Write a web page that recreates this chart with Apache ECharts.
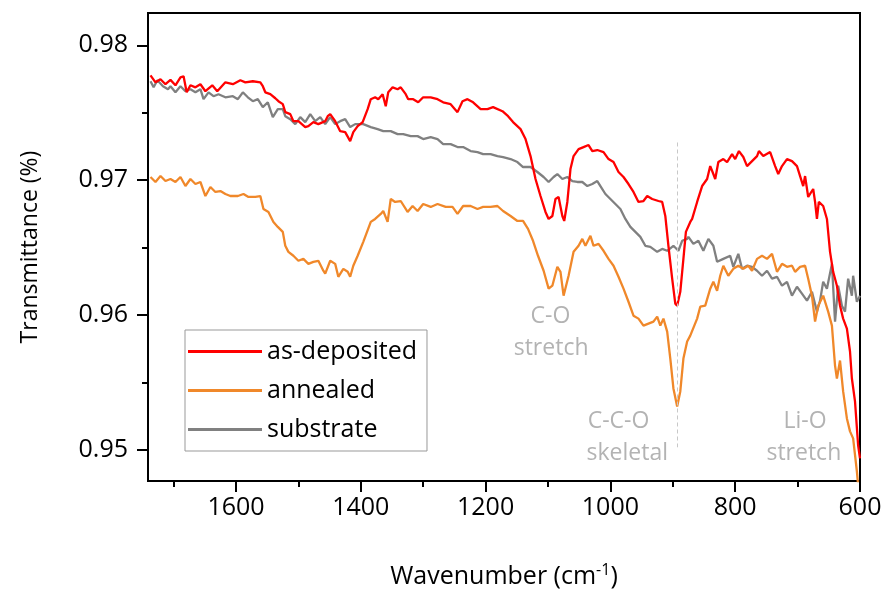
<!DOCTYPE html>
<html>
<head>
<meta charset="utf-8">
<script src="https://cdn.jsdelivr.net/npm/echarts@6/dist/echarts.min.js"></script>
<style>
html,body{margin:0;padding:0;background:#fff;}
#chart{width:885px;height:594px;}
</style>
</head>
<body>
<div id="chart"></div>
<script>
// ---- data (wavenumber cm^-1, transmittance) ----
const seriesNames = ['as-deposited', 'annealed', 'substrate'];

const asDeposited = [
[1737,0.97778],[1729,0.97726],[1721,0.97749],[1713,0.97712],[1705,0.97744],[1697,0.97704],[1689,0.97763],[1684,0.97771],[1679,0.97652],[1673,0.97704],[1665,0.97689],[1657,0.97712],[1649,0.97660],[1638,0.97704],[1630,0.97660],[1617,0.97726],[1605,0.97712],[1593,0.97741],[1585,0.97726],[1573,0.97734],[1561,0.97726],[1557,0.97697],[1553,0.97652],[1545,0.97638],[1537,0.97608],[1532,0.97586],[1525,0.97564],[1521,0.97505],[1513,0.97490],[1508,0.97438],[1500,0.97438],[1489,0.97394],[1484,0.97401],[1476,0.97431],[1468,0.97416],[1457,0.97438],[1453,0.97475],[1449,0.97490],[1441,0.97438],[1433,0.97364],[1425,0.97357],[1417,0.97290],[1412,0.97357],[1405,0.97401],[1397,0.97431],[1389,0.97527],[1384,0.97601],[1377,0.97615],[1372,0.97601],[1365,0.97638],[1360,0.97549],[1356,0.97652],[1349,0.97689],[1341,0.97675],[1336,0.97689],[1328,0.97638],[1324,0.97601],[1316,0.97601],[1308,0.97578],[1300,0.97615],[1288,0.97615],[1277,0.97601],[1268,0.97578],[1256,0.97564],[1245,0.97505],[1237,0.97586],[1229,0.97601],[1220,0.97578],[1208,0.97527],[1197,0.97527],[1188,0.97542],[1173,0.97512],[1164,0.97475],[1156,0.97431],[1144,0.97379],[1136,0.97305],[1128,0.97179],[1120,0.97009],[1112,0.96883],[1104,0.96765],[1099,0.96713],[1093,0.96735],[1088,0.96861],[1083,0.96876],[1077,0.96735],[1074,0.96698],[1069,0.96839],[1064,0.97083],[1059,0.97179],[1051,0.97231],[1043,0.97246],[1035,0.97261],[1029,0.97216],[1021,0.97224],[1011,0.97209],[1003,0.97157],[995,0.97135],[987,0.97061],[979,0.97024],[971,0.96972],[963,0.96913],[955,0.96839],[947,0.96846],[941,0.96883],[933,0.96861],[923,0.96846],[917,0.96839],[912,0.96735],[907,0.96514],[901,0.96270],[896,0.96085],[893,0.96070],[888,0.96173],[883,0.96417],[879,0.96617],[872,0.96691],[869,0.96713],[861,0.96839],[853,0.96957],[845,0.97009],[840,0.97105],[835,0.97046],[832,0.97009],[827,0.97135],[819,0.97157],[813,0.97135],[805,0.97194],[800,0.97157],[794,0.97216],[787,0.97172],[781,0.97105],[773,0.97142],[765,0.97179],[762,0.97216],[755,0.97179],[744,0.97209],[736,0.97105],[731,0.97046],[725,0.97105],[717,0.97157],[709,0.97142],[701,0.97105],[696,0.97031],[691,0.96957],[688,0.97031],[683,0.96876],[675,0.96935],[672,0.96839],[669,0.96713],[666,0.96839],[659,0.96809],[653,0.96713],[648,0.96469],[643,0.96321],[637,0.96218],[632,0.96070],[627,0.95974],[621,0.95900],[616,0.95730],[613,0.95530],[608,0.95360],[603,0.95035],[600,0.94938]
];

const annealed = [
[1737,0.97024],[1729,0.96987],[1721,0.97031],[1713,0.96994],[1705,0.97009],[1697,0.96987],[1689,0.97024],[1681,0.96957],[1673,0.97009],[1665,0.96972],[1657,0.96987],[1649,0.96883],[1641,0.96950],[1633,0.96913],[1625,0.96920],[1617,0.96898],[1609,0.96883],[1597,0.96883],[1588,0.96898],[1580,0.96876],[1569,0.96876],[1561,0.96883],[1556,0.96787],[1548,0.96765],[1540,0.96691],[1533,0.96654],[1525,0.96617],[1521,0.96514],[1516,0.96469],[1508,0.96440],[1500,0.96403],[1492,0.96417],[1484,0.96380],[1476,0.96395],[1468,0.96403],[1460,0.96329],[1457,0.96307],[1449,0.96403],[1441,0.96380],[1436,0.96284],[1428,0.96343],[1421,0.96321],[1417,0.96284],[1412,0.96366],[1405,0.96440],[1396,0.96543],[1384,0.96691],[1377,0.96713],[1368,0.96750],[1364,0.96772],[1357,0.96691],[1352,0.96861],[1345,0.96839],[1336,0.96846],[1325,0.96765],[1317,0.96809],[1309,0.96772],[1300,0.96824],[1288,0.96802],[1277,0.96824],[1264,0.96802],[1253,0.96802],[1245,0.96750],[1236,0.96809],[1224,0.96809],[1213,0.96787],[1204,0.96802],[1192,0.96802],[1181,0.96809],[1172,0.96772],[1160,0.96735],[1149,0.96698],[1140,0.96698],[1132,0.96639],[1124,0.96551],[1116,0.96440],[1107,0.96329],[1099,0.96196],[1093,0.96218],[1085,0.96358],[1080,0.96321],[1075,0.96144],[1072,0.96136],[1067,0.96292],[1059,0.96469],[1051,0.96514],[1045,0.96565],[1040,0.96514],[1032,0.96588],[1027,0.96514],[1019,0.96528],[1011,0.96477],[1003,0.96417],[995,0.96366],[987,0.96284],[979,0.96196],[971,0.96099],[963,0.95996],[955,0.95974],[947,0.95922],[939,0.95937],[931,0.95952],[925,0.95989],[920,0.95922],[915,0.95974],[909,0.95878],[904,0.95678],[899,0.95456],[893,0.95323],[888,0.95434],[883,0.95678],[877,0.95804],[872,0.95848],[869,0.95841],[861,0.95974],[856,0.96062],[848,0.96070],[840,0.96196],[835,0.96247],[829,0.96181],[824,0.96292],[819,0.96366],[811,0.96292],[803,0.96343],[795,0.96366],[787,0.96343],[779,0.96366],[773,0.96329],[765,0.96417],[757,0.96440],[749,0.96417],[741,0.96454],[733,0.96321],[725,0.96380],[717,0.96358],[709,0.96366],[704,0.96321],[696,0.96358],[688,0.96366],[683,0.96270],[677,0.96144],[672,0.95952],[667,0.96070],[659,0.96144],[651,0.96026],[645,0.95922],[640,0.95626],[637,0.95530],[632,0.95663],[627,0.95434],[621,0.95234],[616,0.95138],[611,0.95086],[605,0.94842],[603,0.94739]
];

const substrate = [
[1737,0.97734],[1732,0.97689],[1726,0.97741],[1717,0.97697],[1709,0.97675],[1705,0.97697],[1697,0.97652],[1689,0.97697],[1681,0.97660],[1673,0.97675],[1665,0.97652],[1657,0.97675],[1652,0.97601],[1644,0.97652],[1636,0.97623],[1628,0.97638],[1617,0.97615],[1605,0.97623],[1597,0.97601],[1589,0.97652],[1581,0.97615],[1573,0.97586],[1565,0.97601],[1557,0.97542],[1549,0.97578],[1541,0.97468],[1533,0.97527],[1525,0.97527],[1521,0.97475],[1513,0.97453],[1505,0.97416],[1497,0.97468],[1489,0.97431],[1481,0.97490],[1473,0.97438],[1465,0.97468],[1457,0.97416],[1449,0.97468],[1441,0.97416],[1433,0.97438],[1425,0.97453],[1417,0.97394],[1409,0.97416],[1396,0.97416],[1384,0.97394],[1373,0.97379],[1364,0.97364],[1352,0.97364],[1341,0.97342],[1332,0.97342],[1320,0.97327],[1309,0.97327],[1300,0.97305],[1288,0.97320],[1277,0.97305],[1268,0.97268],[1256,0.97268],[1245,0.97246],[1236,0.97246],[1224,0.97216],[1213,0.97209],[1204,0.97194],[1192,0.97194],[1181,0.97179],[1172,0.97172],[1160,0.97157],[1149,0.97135],[1140,0.97098],[1128,0.97098],[1117,0.97061],[1107,0.97024],[1099,0.96987],[1091,0.97024],[1085,0.97046],[1077,0.97009],[1069,0.97024],[1061,0.96994],[1053,0.96987],[1045,0.96987],[1037,0.96957],[1029,0.96972],[1021,0.96994],[1016,0.96957],[1008,0.96898],[1000,0.96861],[992,0.96824],[984,0.96787],[976,0.96713],[968,0.96654],[960,0.96617],[952,0.96580],[944,0.96514],[936,0.96506],[925,0.96469],[917,0.96491],[909,0.96477],[899,0.96514],[891,0.96477],[885,0.96551],[877,0.96565],[875,0.96580],[867,0.96528],[859,0.96551],[851,0.96477],[843,0.96565],[835,0.96514],[829,0.96395],[819,0.96417],[808,0.96440],[803,0.96358],[795,0.96454],[789,0.96343],[781,0.96366],[773,0.96358],[765,0.96329],[757,0.96292],[749,0.96329],[741,0.96270],[733,0.96284],[725,0.96218],[717,0.96247],[709,0.96144],[701,0.96210],[693,0.96159],[685,0.96107],[677,0.96173],[669,0.96026],[664,0.96107],[659,0.96247],[653,0.96196],[645,0.96380],[640,0.95952],[635,0.96218],[629,0.96070],[624,0.96026],[619,0.96270],[613,0.96144],[611,0.96292],[605,0.96099],[600,0.96144]
];

// axis ticks
const xMajorTicks = [1600, 1400, 1200, 1000, 800, 600];
const xMinorTicks = [1700, 1500, 1300, 1100, 900, 700];
const yMajorTicks = [0.95, 0.96, 0.97, 0.98];
const yMinorTicks = [0.955, 0.965, 0.975];
const xRange = [600, 1741];
const yRange = [0.9477, 0.9824];

// annotation: dashed marker at C-C-O band [wavenumber, top, bottom]
const skeletalMarker = [893, 0.9728, 0.9502];
const annotationTexts = ['C-O', 'stretch', 'C-C-O', 'skeletal', 'Li-O', 'stretch'];
// anchor of each annotation text in data units [wavenumber, transmittance]
const annotationAnchors = [[1096, 0.9599], [1095, 0.95752], [987, 0.95212], [973, 0.94975], [688, 0.95212], [690, 0.94975]];

const colors = ['#ff0000', '#f0882a', '#808080'];
const FONT = 'Open Sans';

const chart = echarts.init(document.getElementById('chart'), null, {renderer: 'canvas'});

function lineSeries(name, data, color, extra) {
  return Object.assign({
    name: name,
    type: 'line',
    data: data,
    xAxisIndex: 0,
    yAxisIndex: 0,
    symbol: 'none',
    showSymbol: false,
    smooth: false,
    clip: true,
    lineStyle: {color: color, width: 2.3},
    itemStyle: {color: color},
    z: 3
  }, extra || {});
}

const axisTextStyle = {color: '#000', fontFamily: FONT, fontSize: 25};

const option = {
  animation: false,
  backgroundColor: '#fff',
  grid: {
    left: 148, right: 25, top: 13, bottom: 111,
    show: true, borderColor: '#000', borderWidth: 2, backgroundColor: 'transparent'
  },
  legend: {
    left: 185, top: 330,
    orient: 'vertical',
    data: seriesNames,
    icon: 'rect',
    itemWidth: 74, itemHeight: 3, itemGap: 12,
    padding: [8, 10, 8, 3],
    borderColor: '#999', borderWidth: 1,
    backgroundColor: '#fff',
    textStyle: {fontFamily: FONT, fontSize: 25, color: '#000', lineHeight: 27},
    selectedMode: false
  },
  xAxis: [
    {
      type: 'value', inverse: true, min: xRange[0], max: xRange[1], position: 'bottom',
      name: 'Wavenumber (cm{sup|-1})',
      nameLocation: 'middle', nameGap: 81,
      nameTextStyle: {
        fontFamily: FONT, fontSize: 25, color: '#000',
        rich: {sup: {fontFamily: FONT, fontSize: 16, color: '#000', padding: [0, 0, 13, 0]}}
      },
      axisLine: {show: true, onZero: false, lineStyle: {color: '#000', width: 2}},
      axisTick: {show: true, inside: false, length: 11, customValues: xMajorTicks, lineStyle: {color: '#000', width: 2}},
      axisLabel: {show: true, customValues: xMajorTicks, margin: 14, formatter: v => String(Math.round(v)), ...axisTextStyle},
      splitLine: {show: false}
    },
    {
      type: 'value', inverse: true, min: xRange[0], max: xRange[1], position: 'bottom', gridIndex: 0,
      axisLine: {show: false, onZero: false},
      axisTick: {show: true, inside: false, length: 6, customValues: xMinorTicks, lineStyle: {color: '#000', width: 2}},
      axisLabel: {show: false},
      splitLine: {show: false}
    }
  ],
  yAxis: [
    {
      type: 'value', min: yRange[0], max: yRange[1], position: 'left',
      name: 'Transmittance (%)',
      nameLocation: 'middle', nameGap: 106, nameRotate: 90,
      nameTextStyle: {fontFamily: FONT, fontSize: 23, color: '#000'},
      axisLine: {show: true, onZero: false, lineStyle: {color: '#000', width: 2}},
      axisTick: {show: true, inside: false, length: 11, customValues: yMajorTicks, lineStyle: {color: '#000', width: 2}},
      axisLabel: {show: true, customValues: yMajorTicks, margin: 20, formatter: v => v.toFixed(2), ...axisTextStyle},
      splitLine: {show: false}
    },
    {
      type: 'value', min: yRange[0], max: yRange[1], position: 'left', gridIndex: 0,
      axisLine: {show: false, onZero: false},
      axisTick: {show: true, inside: false, length: 6, customValues: yMinorTicks, lineStyle: {color: '#000', width: 2}},
      axisLabel: {show: false},
      splitLine: {show: false}
    }
  ],
  series: [
    lineSeries(seriesNames[2], substrate, colors[2], {z: 2}),
    lineSeries(seriesNames[1], annealed, colors[1], {
      z: 2,
      markLine: {
        silent: true,
        symbol: ['none', 'none'],
        label: {show: false},
        lineStyle: {color: '#c8c8c8', width: 1, type: [4, 3]},
        data: [[{coord: [skeletalMarker[0], skeletalMarker[1]]}, {coord: [skeletalMarker[0], skeletalMarker[2]]}]]
      }
    }),
    lineSeries(seriesNames[0], asDeposited, colors[0], {z: 4})
  ]
};

chart.setOption(option);

const annStyle = {fill: '#b3b3b3', fontFamily: FONT, fontSize: 23, align: 'center', verticalAlign: 'middle'};
chart.setOption({
  graphic: annotationTexts.map((t, i) => {
    const p = chart.convertToPixel({xAxisIndex: 0, yAxisIndex: 0}, annotationAnchors[i]);
    return {type: 'text', x: p[0], y: p[1], z: 10, style: Object.assign({text: t}, annStyle)};
  })
});
</script>
</body>
</html>
